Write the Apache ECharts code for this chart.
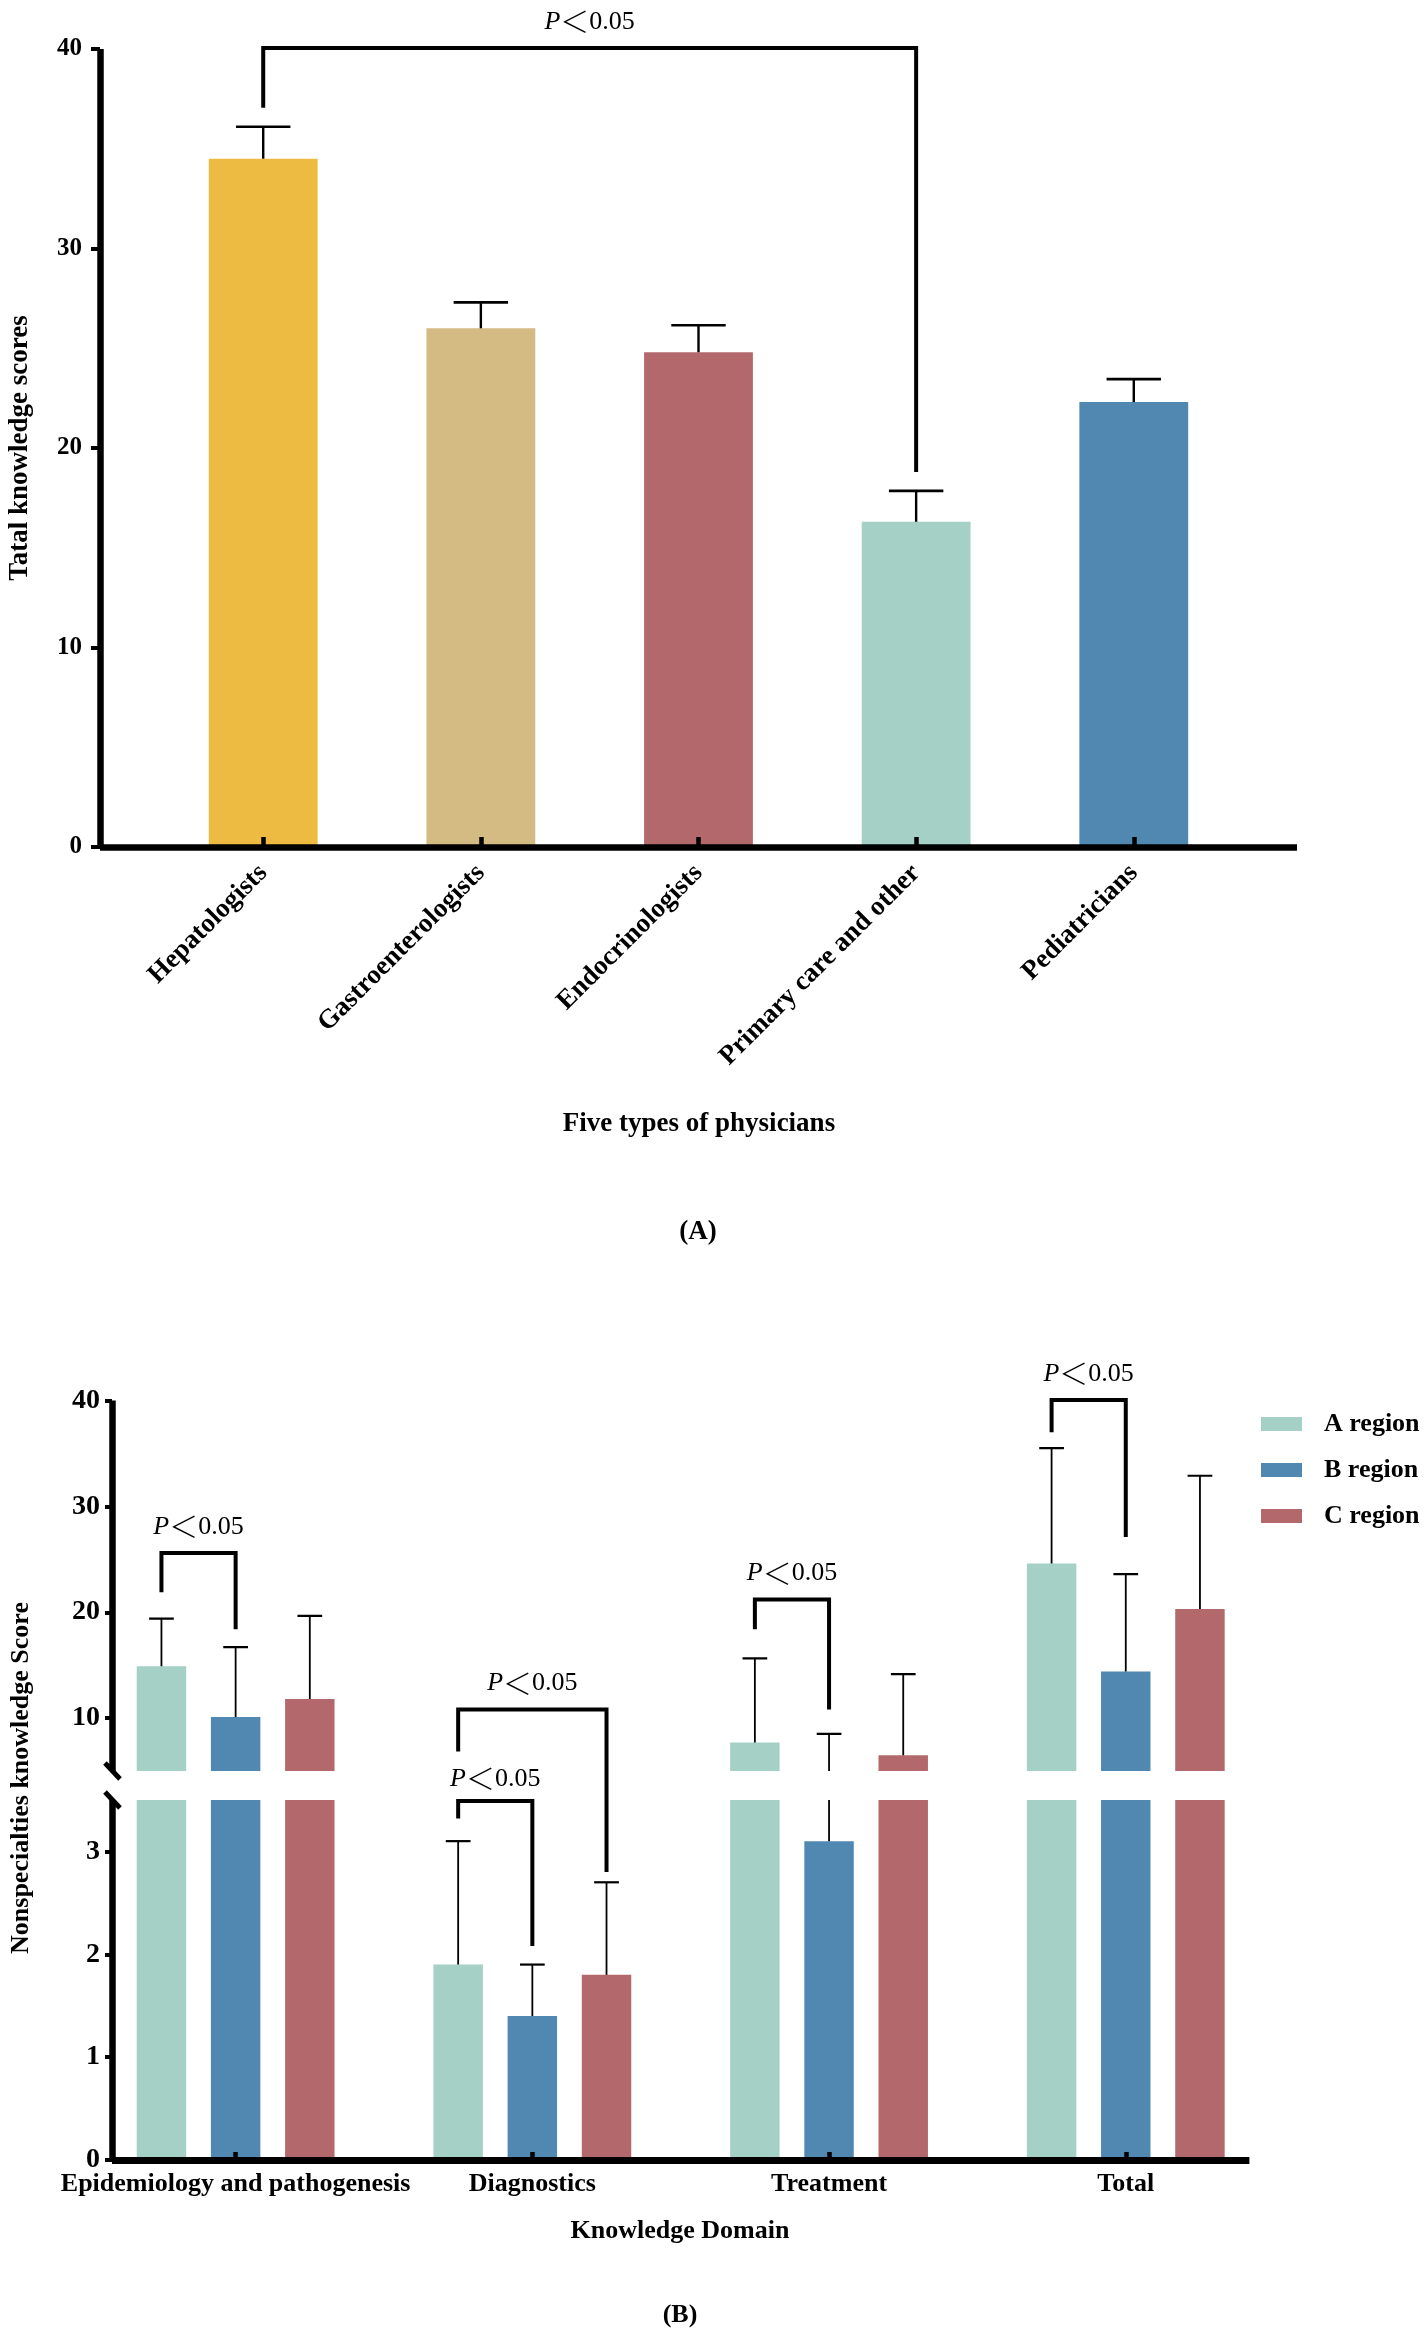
<!DOCTYPE html>
<html>
<head>
<meta charset="utf-8">
<script src="https://cdn.jsdelivr.net/npm/echarts@6/dist/echarts.min.js"></script>
<style>
html,body{margin:0;padding:0;background:#ffffff;}
#chart{width:1426px;height:2339px;}
</style>
</head>
<body>
<div id="chart"></div>
<script>
// ================= Panel A data =================
const physicianTypes = ['Hepatologists', 'Gastroenterologists', 'Endocrinologists', 'Primary care and other', 'Pediatricians'];
const totalScoreMean = [34.5, 26.0, 24.8, 16.3, 22.3];
const totalScoreErr  = [1.6, 1.3, 1.35, 1.55, 1.15];
const physicianColors = ['#EEBB42', '#D4BA83', '#B3686C', '#A4D0C6', '#5088B2'];
const scoreTicksA = [0, 10, 20, 30, 40];
// significance bracket: [fromIdx, toIdx, top, leftLegEnd, rightLegEnd]
const bracketsA = [[0, 3, 40.05, 37.05, 18.8]];

// ================= Panel B data =================
const knowledgeDomains = ['Epidemiology and pathogenesis', 'Diagnostics', 'Treatment', 'Total'];
const regionNames = ['A region', 'B region', 'C region'];
const regionAMean = [14.9, 1.9, 7.7, 24.6];
const regionAErr  = [4.5, 1.2, 7.95, 10.9];
const regionBMean = [10.1, 1.4, 3.1, 14.4];
const regionBErr  = [6.6, 0.5, 5.4, 9.2];
const regionCMean = [11.8, 1.8, 6.5, 20.3];
const regionCErr  = [7.85, 0.9, 7.65, 12.6];
const regionColors = ['#A4D0C6', '#5088B2', '#B3686C'];
const upperTicksB = [10, 20, 30, 40];
const lowerTicksB = [0, 1, 2, 3];
const upperRangeB = [5, 40];   // upper segment of the broken axis
const lowerRangeB = [0, 3.5];  // lower segment of the broken axis
// significance brackets: [domainIdx, fromRegion, toRegion, top, leftLegEnd, rightLegEnd]
const bracketsB = [
  [0, 0, 1, 25.6, 21.9, 18.4],
  [1, 0, 2, 10.8, 6.85, 2.8],
  [1, 0, 1, 3.49, 3.32, 2.08],
  [2, 0, 1, 21.2, 18.4, 10.8],
  [3, 0, 1, 40.05, 37.0, 27.1]
];

// ================= layout / style =================
const FONT = '"Liberation Serif", "Times New Roman", Times, serif';
const gridA = {left: 100, top: 49, width: 1197, height: 798};
const gridBUp = {left: 112, top: 1400.6, width: 1137.4, height: 370.4};
const gridBLow = {left: 112, top: 1800, width: 1137.4, height: 360};
const GAP_B = gridBLow.top - (gridBUp.top + gridBUp.height);
const xRangeA = [-0.75, 4.75];
const xRangeB = [-5 / 12, 41 / 12];
const BAR_W_A = 0.5;
const BAR_W_B = 1 / 6;
const BAR_STEP_B = 0.25;
const P_GAP = 26;

function pText(x, y) {
  return {
    type: 'text', x: x, y: y, z2: 10,
    style: {
      text: '{i|P}{lt|\uFF1C}{n|0.05}',
      align: 'center', verticalAlign: 'middle',
      rich: {
        i: {fontFamily: FONT, fontStyle: 'italic', fontSize: 26, fill: '#000'},
        lt: {fontFamily: '"Noto Sans CJK SC", sans-serif', fontSize: 29, fontWeight: 300, fill: '#000'},
        n: {fontFamily: FONT, fontSize: 26, fill: '#000'}
      }
    }
  };
}

// ---------- Panel A renderers ----------
function renderBarA(params, api) {
  const i = api.value(0), m = api.value(1), e = api.value(2);
  const top = api.coord([i, m]);
  const base = api.coord([i, 0]);
  const cap = api.coord([i, m + e]);
  const w = api.size([BAR_W_A, 0])[0];
  return {
    type: 'group',
    children: [
      {type: 'rect', shape: {x: top[0] - w / 2, y: top[1], width: w, height: base[1] - top[1]},
       style: {fill: physicianColors[params.dataIndex]}},
      {type: 'line', shape: {x1: top[0], y1: top[1], x2: top[0], y2: cap[1]},
       style: {stroke: '#000', lineWidth: 2.4}},
      {type: 'line', shape: {x1: top[0] - w / 4, y1: cap[1], x2: top[0] + w / 4, y2: cap[1]},
       style: {stroke: '#000', lineWidth: 2.6}}
    ]
  };
}
function renderBracketA(params, api) {
  const from = api.value(0), to = api.value(1), t = api.value(2), le = api.value(3), re = api.value(4);
  const pl = api.coord([from, le]), pr = api.coord([to, re]);
  const yTop = api.coord([from, t])[1];
  return {
    type: 'group',
    children: [
      {type: 'polyline', shape: {points: [[pl[0], pl[1]], [pl[0], yTop], [pr[0], yTop], [pr[0], pr[1]]]},
       style: {stroke: '#000', fill: 'none', lineWidth: 4, lineJoin: 'miter', lineCap: 'butt'}},
      pText((pl[0] + pr[0]) / 2, yTop - P_GAP)
    ]
  };
}

// ---------- Panel B renderers ----------
function makeBarB(regionIdx, range) {
  return function (params, api) {
    const g = api.value(0), m = api.value(1), e = api.value(2);
    const clamp = v => Math.min(Math.max(v, range[0]), range[1]);
    const step = api.size([BAR_STEP_B, 0])[0];
    const w = api.size([BAR_W_B, 0])[0];
    const cx = api.coord([g, 0])[0] + (regionIdx - 1) * step;
    const children = [];
    const yb = api.coord([g, clamp(0)])[1];
    const yt = api.coord([g, clamp(m)])[1];
    if (yb - yt > 0.01) {
      children.push({type: 'rect', shape: {x: cx - w / 2, y: yt, width: w, height: yb - yt},
        style: {fill: regionColors[regionIdx]}});
    }
    const yc = api.coord([g, clamp(m + e)])[1];
    if (yt - yc > 0.01) {
      children.push({type: 'line', shape: {x1: cx, y1: yt, x2: cx, y2: yc},
        style: {stroke: '#000', lineWidth: 1.8}});
    }
    if (m + e >= range[0] && m + e <= range[1]) {
      children.push({type: 'line', shape: {x1: cx - w / 4, y1: yc, x2: cx + w / 4, y2: yc},
        style: {stroke: '#000', lineWidth: 2.2}});
    }
    return {type: 'group', children: children};
  };
}
function bracketStyle() {
  return {stroke: '#000', fill: 'none', lineWidth: 4, lineJoin: 'miter', lineCap: 'butt'};
}
function renderBracketBUpper(params, api) {
  const g = api.value(0), from = api.value(1), to = api.value(2), t = api.value(3), le = api.value(4), re = api.value(5);
  if (t < upperRangeB[0]) return {type: 'group', children: []};
  const step = api.size([BAR_STEP_B, 0])[0];
  const c = api.coord([g, t]);
  const xl = c[0] + (from - 1) * step, xr = c[0] + (to - 1) * step;
  const legY = v => v >= upperRangeB[0] ? api.coord([g, v])[1] : api.coord([g, upperRangeB[0]])[1] + GAP_B;
  return {
    type: 'group',
    children: [
      {type: 'polyline', shape: {points: [[xl, legY(le)], [xl, c[1]], [xr, c[1]], [xr, legY(re)]]}, style: bracketStyle()},
      pText((xl + xr) / 2, c[1] - P_GAP)
    ]
  };
}
function renderBracketBLower(params, api) {
  const g = api.value(0), from = api.value(1), to = api.value(2), t = api.value(3), le = api.value(4), re = api.value(5);
  const step = api.size([BAR_STEP_B, 0])[0];
  const c0 = api.coord([g, lowerRangeB[1]]);
  const xl = c0[0] + (from - 1) * step, xr = c0[0] + (to - 1) * step;
  const children = [];
  if (t <= lowerRangeB[1]) {
    const yT = api.coord([g, t])[1];
    children.push({type: 'polyline',
      shape: {points: [[xl, api.coord([g, le])[1]], [xl, yT], [xr, yT], [xr, api.coord([g, re])[1]]]},
      style: bracketStyle()});
    children.push(pText((xl + xr) / 2, yT - P_GAP + 4));
  } else {
    [[xl, le], [xr, re]].forEach(function (leg) {
      if (leg[1] < upperRangeB[0]) {
        children.push({type: 'line', shape: {x1: leg[0], y1: c0[1], x2: leg[0], y2: api.coord([g, leg[1]])[1]},
          style: {stroke: '#000', lineWidth: 4, lineCap: 'butt'}});
      }
    });
  }
  return {type: 'group', children: children};
}
function renderBreakMarks(params, api) {
  const p = api.coord([api.value(0), api.value(1)]);
  const yLowTop = p[1];
  const yUpBottom = p[1] - GAP_B;
  const mk = y => ({type: 'line', shape: {x1: p[0] - 7, y1: y - 8, x2: p[0] + 8, y2: y + 8},
    style: {stroke: '#000', lineWidth: 5, lineCap: 'butt'}});
  return {type: 'group', children: [mk(yUpBottom), mk(yLowTop)]};
}

// ---------- axes ----------
const axisLineStyle = w => ({show: true, onZero: false, lineStyle: {color: '#000', width: w, cap: 'butt'}});
const labelFont = size => ({fontFamily: FONT, fontWeight: 'bold', fontSize: size, color: '#000'});

const option = {
  backgroundColor: '#ffffff',
  animation: false,
  grid: [
    Object.assign({outerBoundsMode: 'none', containLabel: false}, gridA),
    Object.assign({outerBoundsMode: 'none', containLabel: false}, gridBUp),
    Object.assign({outerBoundsMode: 'none', containLabel: false}, gridBLow)
  ],
  xAxis: [
    {
      gridIndex: 0, type: 'value', min: xRangeA[0], max: xRangeA[1], z: 10,
      axisLine: axisLineStyle(6.5),
      axisTick: {show: true, inside: true, length: 10, customValues: physicianTypes.map((_, i) => i),
        lineStyle: {color: '#000', width: 4.5}},
      axisLabel: Object.assign({show: true, rotate: 45, margin: 22,
        customValues: physicianTypes.map((_, i) => i),
        formatter: v => physicianTypes[Math.round(v)]}, labelFont(27)),
      splitLine: {show: false}
    },
    {
      gridIndex: 1, type: 'value', min: xRangeB[0], max: xRangeB[1], show: false,
      axisLine: {show: false, onZero: false},
      splitLine: {show: false}
    },
    {
      gridIndex: 2, type: 'value', min: xRangeB[0], max: xRangeB[1], z: 10,
      axisLine: axisLineStyle(7),
      axisTick: {show: true, inside: true, length: 8, customValues: knowledgeDomains.map((_, i) => i),
        lineStyle: {color: '#000', width: 4.5}},
      axisLabel: Object.assign({show: true, margin: 11,
        customValues: knowledgeDomains.map((_, i) => i),
        formatter: v => knowledgeDomains[Math.round(v)]}, labelFont(26)),
      splitLine: {show: false}
    }
  ],
  yAxis: [
    {
      gridIndex: 0, type: 'value', min: scoreTicksA[0], max: scoreTicksA[scoreTicksA.length - 1], interval: 10, z: 10,
      axisLine: axisLineStyle(6.5),
      axisTick: {show: true, inside: false, length: 9, lineStyle: {color: '#000', width: 4}},
      axisLabel: Object.assign({margin: 18}, labelFont(25)),
      splitLine: {show: false}
    },
    {
      gridIndex: 1, type: 'value', min: upperRangeB[0], max: upperRangeB[1], z: 10,
      axisLine: axisLineStyle(6.5),
      axisTick: {show: true, inside: false, length: 7, customValues: upperTicksB, lineStyle: {color: '#000', width: 4}},
      axisLabel: Object.assign({margin: 12, customValues: upperTicksB}, labelFont(28)),
      splitLine: {show: false}
    },
    {
      gridIndex: 2, type: 'value', min: lowerRangeB[0], max: lowerRangeB[1], z: 10,
      axisLine: axisLineStyle(6.5),
      axisTick: {show: true, inside: false, length: 7, customValues: lowerTicksB, lineStyle: {color: '#000', width: 4}},
      axisLabel: Object.assign({margin: 12, customValues: lowerTicksB}, labelFont(28)),
      splitLine: {show: false}
    }
  ],
  legend: {
    show: true, orient: 'vertical', left: 1256, top: 1406,
    itemWidth: 41, itemHeight: 14, itemGap: 20, icon: 'rect', selectedMode: false,
    data: regionNames,
    textStyle: {fontFamily: FONT, fontWeight: 'bold', fontSize: 26, color: '#000', padding: [0, 0, 0, 17]}
  },
  graphic: [
    {type: 'text', x: 20, y: 448, rotation: Math.PI / 2,
     style: {text: 'Tatal knowledge scores', fontFamily: FONT, fontWeight: 'bold', fontSize: 27, fill: '#000', align: 'center', verticalAlign: 'middle'}},
    {type: 'text', x: 699, y: 1124,
     style: {text: 'Five types of physicians', fontFamily: FONT, fontWeight: 'bold', fontSize: 27, fill: '#000', align: 'center', verticalAlign: 'middle'}},
    {type: 'text', x: 698, y: 1232,
     style: {text: '(A)', fontFamily: FONT, fontWeight: 'bold', fontSize: 27, fill: '#000', align: 'center', verticalAlign: 'middle'}},
    {type: 'text', x: 21, y: 1778, rotation: Math.PI / 2,
     style: {text: 'Nonspecialties knowledge Score', fontFamily: FONT, fontWeight: 'bold', fontSize: 26, fill: '#000', align: 'center', verticalAlign: 'middle'}},
    {type: 'text', x: 680, y: 2231,
     style: {text: 'Knowledge Domain', fontFamily: FONT, fontWeight: 'bold', fontSize: 26, fill: '#000', align: 'center', verticalAlign: 'middle'}},
    {type: 'text', x: 680, y: 2315,
     style: {text: '(B)', fontFamily: FONT, fontWeight: 'bold', fontSize: 26, fill: '#000', align: 'center', verticalAlign: 'middle'}}
  ],
  series: []
};

// Panel A series
option.series.push({
  type: 'custom', name: 'Total knowledge', xAxisIndex: 0, yAxisIndex: 0, z: 2,
  renderItem: renderBarA,
  data: physicianTypes.map((_, i) => [i, totalScoreMean[i], totalScoreErr[i]])
});
option.series.push({
  type: 'custom', name: 'bracketA', xAxisIndex: 0, yAxisIndex: 0, z: 3,
  renderItem: renderBracketA,
  data: bracketsA
});

// Panel B series
const regionMeans = [regionAMean, regionBMean, regionCMean];
const regionErrs = [regionAErr, regionBErr, regionCErr];
[[1, upperRangeB], [2, lowerRangeB]].forEach(function (seg) {
  regionNames.forEach(function (name, r) {
    option.series.push({
      type: 'custom', name: name, xAxisIndex: seg[0], yAxisIndex: seg[0], z: 2, clip: true,
      itemStyle: {color: regionColors[r]},
      renderItem: makeBarB(r, seg[1]),
      data: knowledgeDomains.map((_, i) => [i, regionMeans[r][i], regionErrs[r][i]])
    });
  });
});
option.series.push({
  type: 'custom', name: 'bracketB-upper', xAxisIndex: 1, yAxisIndex: 1, z: 3,
  renderItem: renderBracketBUpper, data: bracketsB
});
option.series.push({
  type: 'custom', name: 'bracketB-lower', xAxisIndex: 2, yAxisIndex: 2, z: 3,
  renderItem: renderBracketBLower, data: bracketsB
});
option.series.push({
  type: 'custom', name: 'axis-break', xAxisIndex: 2, yAxisIndex: 2, z: 11,
  renderItem: renderBreakMarks, data: [[xRangeB[0], lowerRangeB[1]]]
});

const chart = echarts.init(document.getElementById('chart'), null, {renderer: 'canvas'});
chart.setOption(option);
</script>
</body>
</html>
